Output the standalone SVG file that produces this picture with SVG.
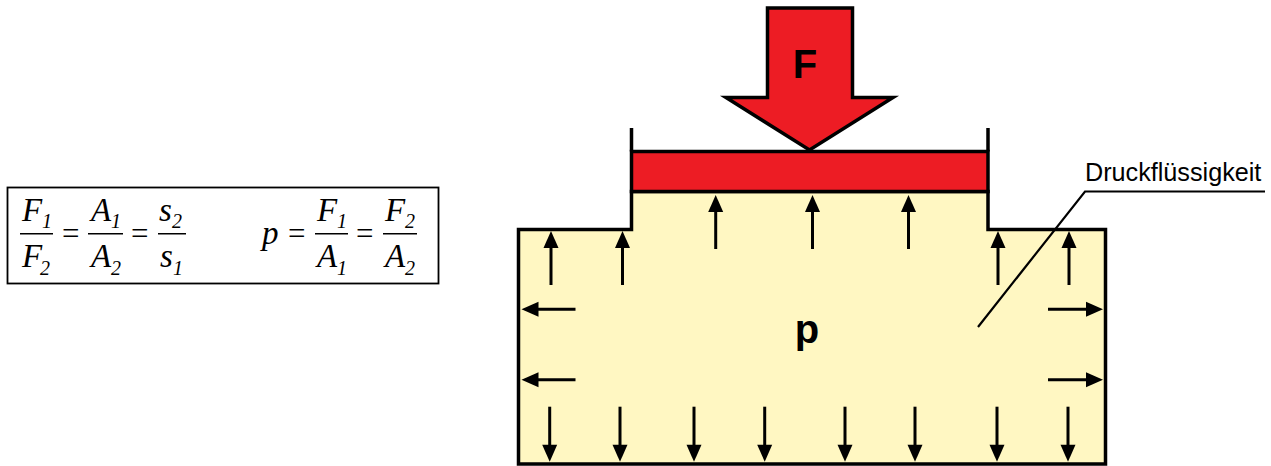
<svg xmlns="http://www.w3.org/2000/svg" width="1271" height="466" viewBox="0 0 1271 466">
<style>
.o{stroke:#000;stroke-width:3.5;stroke-linejoin:miter}
.s{stroke:#000;stroke-width:3;fill:none}
.h{fill:#000;stroke:none}
.m{font-family:"Liberation Serif",serif;font-style:italic;font-size:33px;fill:#000}
.b{font-family:"Liberation Serif",serif;font-style:italic;font-size:20px;fill:#000}
.e{font-family:"Liberation Serif",serif;font-size:31px;fill:#000}
.l{font-family:"Liberation Sans",Arial,sans-serif;fill:#000}
</style>
<defs>
<g id="aup"><path class="s" d="M0 54V14"/><path class="h" d="M0 0L7.5 17H-7.5Z"/></g>
<g id="adn"><path class="s" d="M0 0V40"/><path class="h" d="M0 55L-7.5 38H7.5Z"/></g>
<g id="alt"><path class="s" d="M54 0H14"/><path class="h" d="M0 0L17 -7.5V7.5Z"/></g>
<g id="art"><path class="s" d="M0 0H40"/><path class="h" d="M55 0L38 -7.5V7.5Z"/></g>
</defs>
<g id="formula">
<rect x="7.5" y="187.5" width="431" height="96" fill="#fff" stroke="#000" stroke-width="1.8"/>
<path d="M20 233.7H53M88 233.7H123M158 233.7H186M315 233.7H348M383 233.7H417" stroke="#000" stroke-width="1.4" fill="none"/>
<text class="m" x="22" y="221">F</text><text class="b" x="42" y="228">1</text>
<text class="m" x="22" y="267">F</text><text class="b" x="40" y="275">2</text>
<text class="e" x="62" y="244">=</text>
<text class="m" x="91" y="221">A</text><text class="b" x="111" y="228">1</text>
<text class="m" x="91" y="267">A</text><text class="b" x="111" y="275">2</text>
<text class="e" x="131" y="244">=</text>
<text class="m" x="159" y="221">s</text><text class="b" x="172" y="228">2</text>
<text class="m" x="160" y="267">s</text><text class="b" x="173" y="275">1</text>
<text class="m" x="262" y="244">p</text>
<text class="e" x="288" y="244">=</text>
<text class="m" x="317" y="221">F</text><text class="b" x="337" y="228">1</text>
<text class="m" x="317" y="267">A</text><text class="b" x="337" y="275">1</text>
<text class="e" x="356" y="244">=</text>
<text class="m" x="385" y="221">F</text><text class="b" x="405" y="228">2</text>
<text class="m" x="385" y="267">A</text><text class="b" x="405" y="275">2</text>
</g>
<g id="fluid">
<path class="o" fill="#fff7c2" d="M518.5 464V229.5H631.5V191.5H988V229.5H1105.5V464Z"/>
</g>
<g id="piston">
<path class="o" fill="#ed1c24" d="M631.5 151.5H988V191.5H631.5Z"/>
<path class="o" fill="none" d="M631.5 128V151.5M988 128V151.5"/>
</g>
<g id="force">
<path class="o" fill="#ed1c24" d="M767.5 8H852.5V97.5H893L809.5 150L726 97.5H767.5Z"/>
<text class="l" x="805" y="78" font-size="40" font-weight="700" text-anchor="middle">F</text>
</g>
<g id="connectors">
<use href="#aup" x="551" y="231"/><use href="#aup" x="622.5" y="231"/>
<use href="#aup" x="715.7" y="195"/><use href="#aup" x="812.5" y="195"/><use href="#aup" x="908.5" y="195"/>
<use href="#aup" x="998" y="231"/><use href="#aup" x="1069" y="231"/>
<use href="#alt" x="521.5" y="309.3"/><use href="#alt" x="521.5" y="379.7"/>
<use href="#art" x="1048" y="309.3"/><use href="#art" x="1048" y="379.7"/>
<use href="#adn" x="549.7" y="406.7"/><use href="#adn" x="620" y="406.7"/><use href="#adn" x="694" y="406.7"/><use href="#adn" x="764.7" y="406.7"/>
<use href="#adn" x="845" y="406.7"/><use href="#adn" x="915" y="406.7"/><use href="#adn" x="997" y="406.7"/><use href="#adn" x="1068" y="406.7"/>
<path d="M978 327L1085 191.5H1265" fill="none" stroke="#000" stroke-width="2.2"/>
</g>
<g id="labels">
<text class="l" x="807" y="343" font-size="40" font-weight="700" text-anchor="middle">p</text>
<text class="l" x="1085" y="181" font-size="25.2">Druckflüssigkeit</text>
</g>
</svg>
